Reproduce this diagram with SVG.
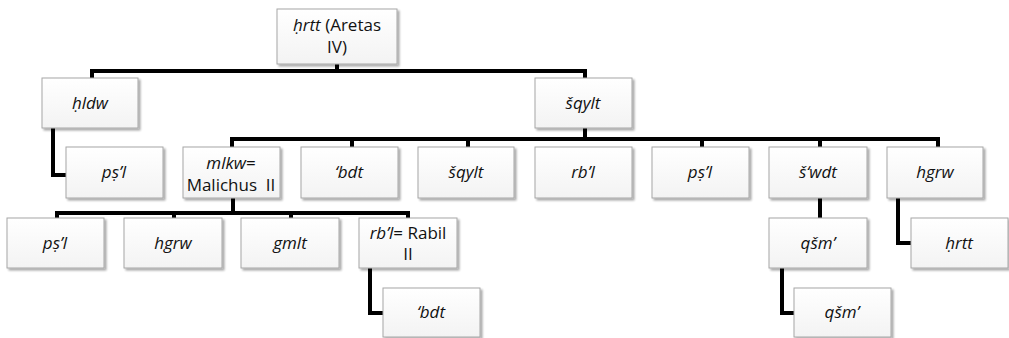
<svg xmlns="http://www.w3.org/2000/svg" width="1009" height="338" viewBox="0 0 1009 338">
<defs>
<linearGradient id="g" x1="0" y1="0" x2="0" y2="1">
<stop offset="0" stop-color="#ffffff"/>
<stop offset="1" stop-color="#f3f3f3"/>
</linearGradient>
<filter id="sh" x="-10%" y="-10%" width="125%" height="135%">
<feGaussianBlur in="SourceAlpha" stdDeviation="1.2"/>
<feOffset dx="1.5" dy="2" result="b"/>
<feComponentTransfer><feFuncA type="linear" slope="0.35"/></feComponentTransfer>
<feMerge><feMergeNode/><feMergeNode in="SourceGraphic"/></feMerge>
</filter>
</defs>
<style>
.box{fill:url(#g);stroke:#a6a6a6;stroke-width:1;filter:url(#sh)}
.t{font-family:"Open Sans","Liberation Sans",sans-serif;font-size:17px;font-weight:500;fill:#111;text-anchor:middle}
.i{font-style:italic}
.pre{white-space:pre}
.c{fill:none;stroke:#000;stroke-width:4;stroke-linejoin:miter}
</style>
<rect width="1009" height="338" fill="#fff"/>
<g id="connectors">
<path class="c" d="M337,64V71M92,78V71H585V78"/>
<path class="c" d="M53,128V175H66"/>
<path class="c" d="M585,128V139M232,147V139H938V147M352,139V147M468,139V147M702,139V147M820,139V147"/>
<path class="c" d="M233,198V213M57,218V213H408V218M174,213V218M291,213V218"/>
<path class="c" d="M370,268V313H383"/>
<path class="c" d="M820,198V218"/>
<path class="c" d="M782,268V313H794"/>
<path class="c" d="M898,198V243H911"/>
</g>
<g id="n-root"><rect class="box" x="277" y="9" width="120" height="55"/><text class="t" x="337" y="31"><tspan class="i">ḥrtt</tspan> (Aretas</text><text class="t" x="337" y="53">IV)</text></g>
<g id="n-hldw"><rect class="box" x="42" y="78" width="96" height="50"/><text class="t i" x="90" y="109">ḥldw</text></g>
<g id="n-sqylt"><rect class="box" x="535" y="78" width="97" height="50"/><text class="t i" x="583" y="109">šqylt</text></g>
<g id="n-psl1"><rect class="box" x="66" y="147" width="97" height="51"/><text class="t i" x="114" y="178">pṣ’l</text></g>
<g id="n-mlkw"><rect class="box" x="183" y="147" width="97" height="51"/><text class="t" x="231" y="169"><tspan class="i">mlkw</tspan>=</text><text class="t pre" x="231" y="191">Malichus  II</text></g>
<g id="n-bdt1"><rect class="box" x="301" y="147" width="97" height="51"/><text class="t i" x="349" y="178">‘bdt</text></g>
<g id="n-sqylt2"><rect class="box" x="418" y="147" width="96" height="51"/><text class="t i" x="466" y="178">šqylt</text></g>
<g id="n-rbl"><rect class="box" x="535" y="147" width="97" height="51"/><text class="t i" x="583" y="178">rb’l</text></g>
<g id="n-psl2"><rect class="box" x="652" y="147" width="97" height="51"/><text class="t i" x="700" y="178">pṣ’l</text></g>
<g id="n-swdt"><rect class="box" x="769" y="147" width="98" height="51"/><text class="t i" x="818" y="178">š‘wdt</text></g>
<g id="n-hgrw"><rect class="box" x="887" y="147" width="96" height="51"/><text class="t i" x="935" y="178">hgrw</text></g>
<g id="n-psl3"><rect class="box" x="7" y="218" width="97" height="50"/><text class="t i" x="55" y="249">pṣ’l</text></g>
<g id="n-hgrw2"><rect class="box" x="124" y="218" width="98" height="50"/><text class="t i" x="173" y="249">hgrw</text></g>
<g id="n-gmlt"><rect class="box" x="241" y="218" width="98" height="50"/><text class="t i" x="290" y="249">gmlt</text></g>
<g id="n-rabil"><rect class="box" x="359" y="218" width="98" height="50"/><text class="t" x="408" y="239"><tspan class="i">rb’l</tspan>= Rabil</text><text class="t" x="408" y="260">II</text></g>
<g id="n-bdt2"><rect class="box" x="383" y="288" width="97" height="49"/><text class="t i" x="431" y="318">‘bdt</text></g>
<g id="n-qsm1"><rect class="box" x="769" y="218" width="98" height="50"/><text class="t i" x="818" y="249">qšm’</text></g>
<g id="n-hrtt"><rect class="box" x="911" y="218" width="97" height="50"/><text class="t i" x="959" y="249">ḥrtt</text></g>
<g id="n-qsm2"><rect class="box" x="794" y="288" width="97" height="49"/><text class="t i" x="842" y="318">qšm’</text></g>
</svg>
